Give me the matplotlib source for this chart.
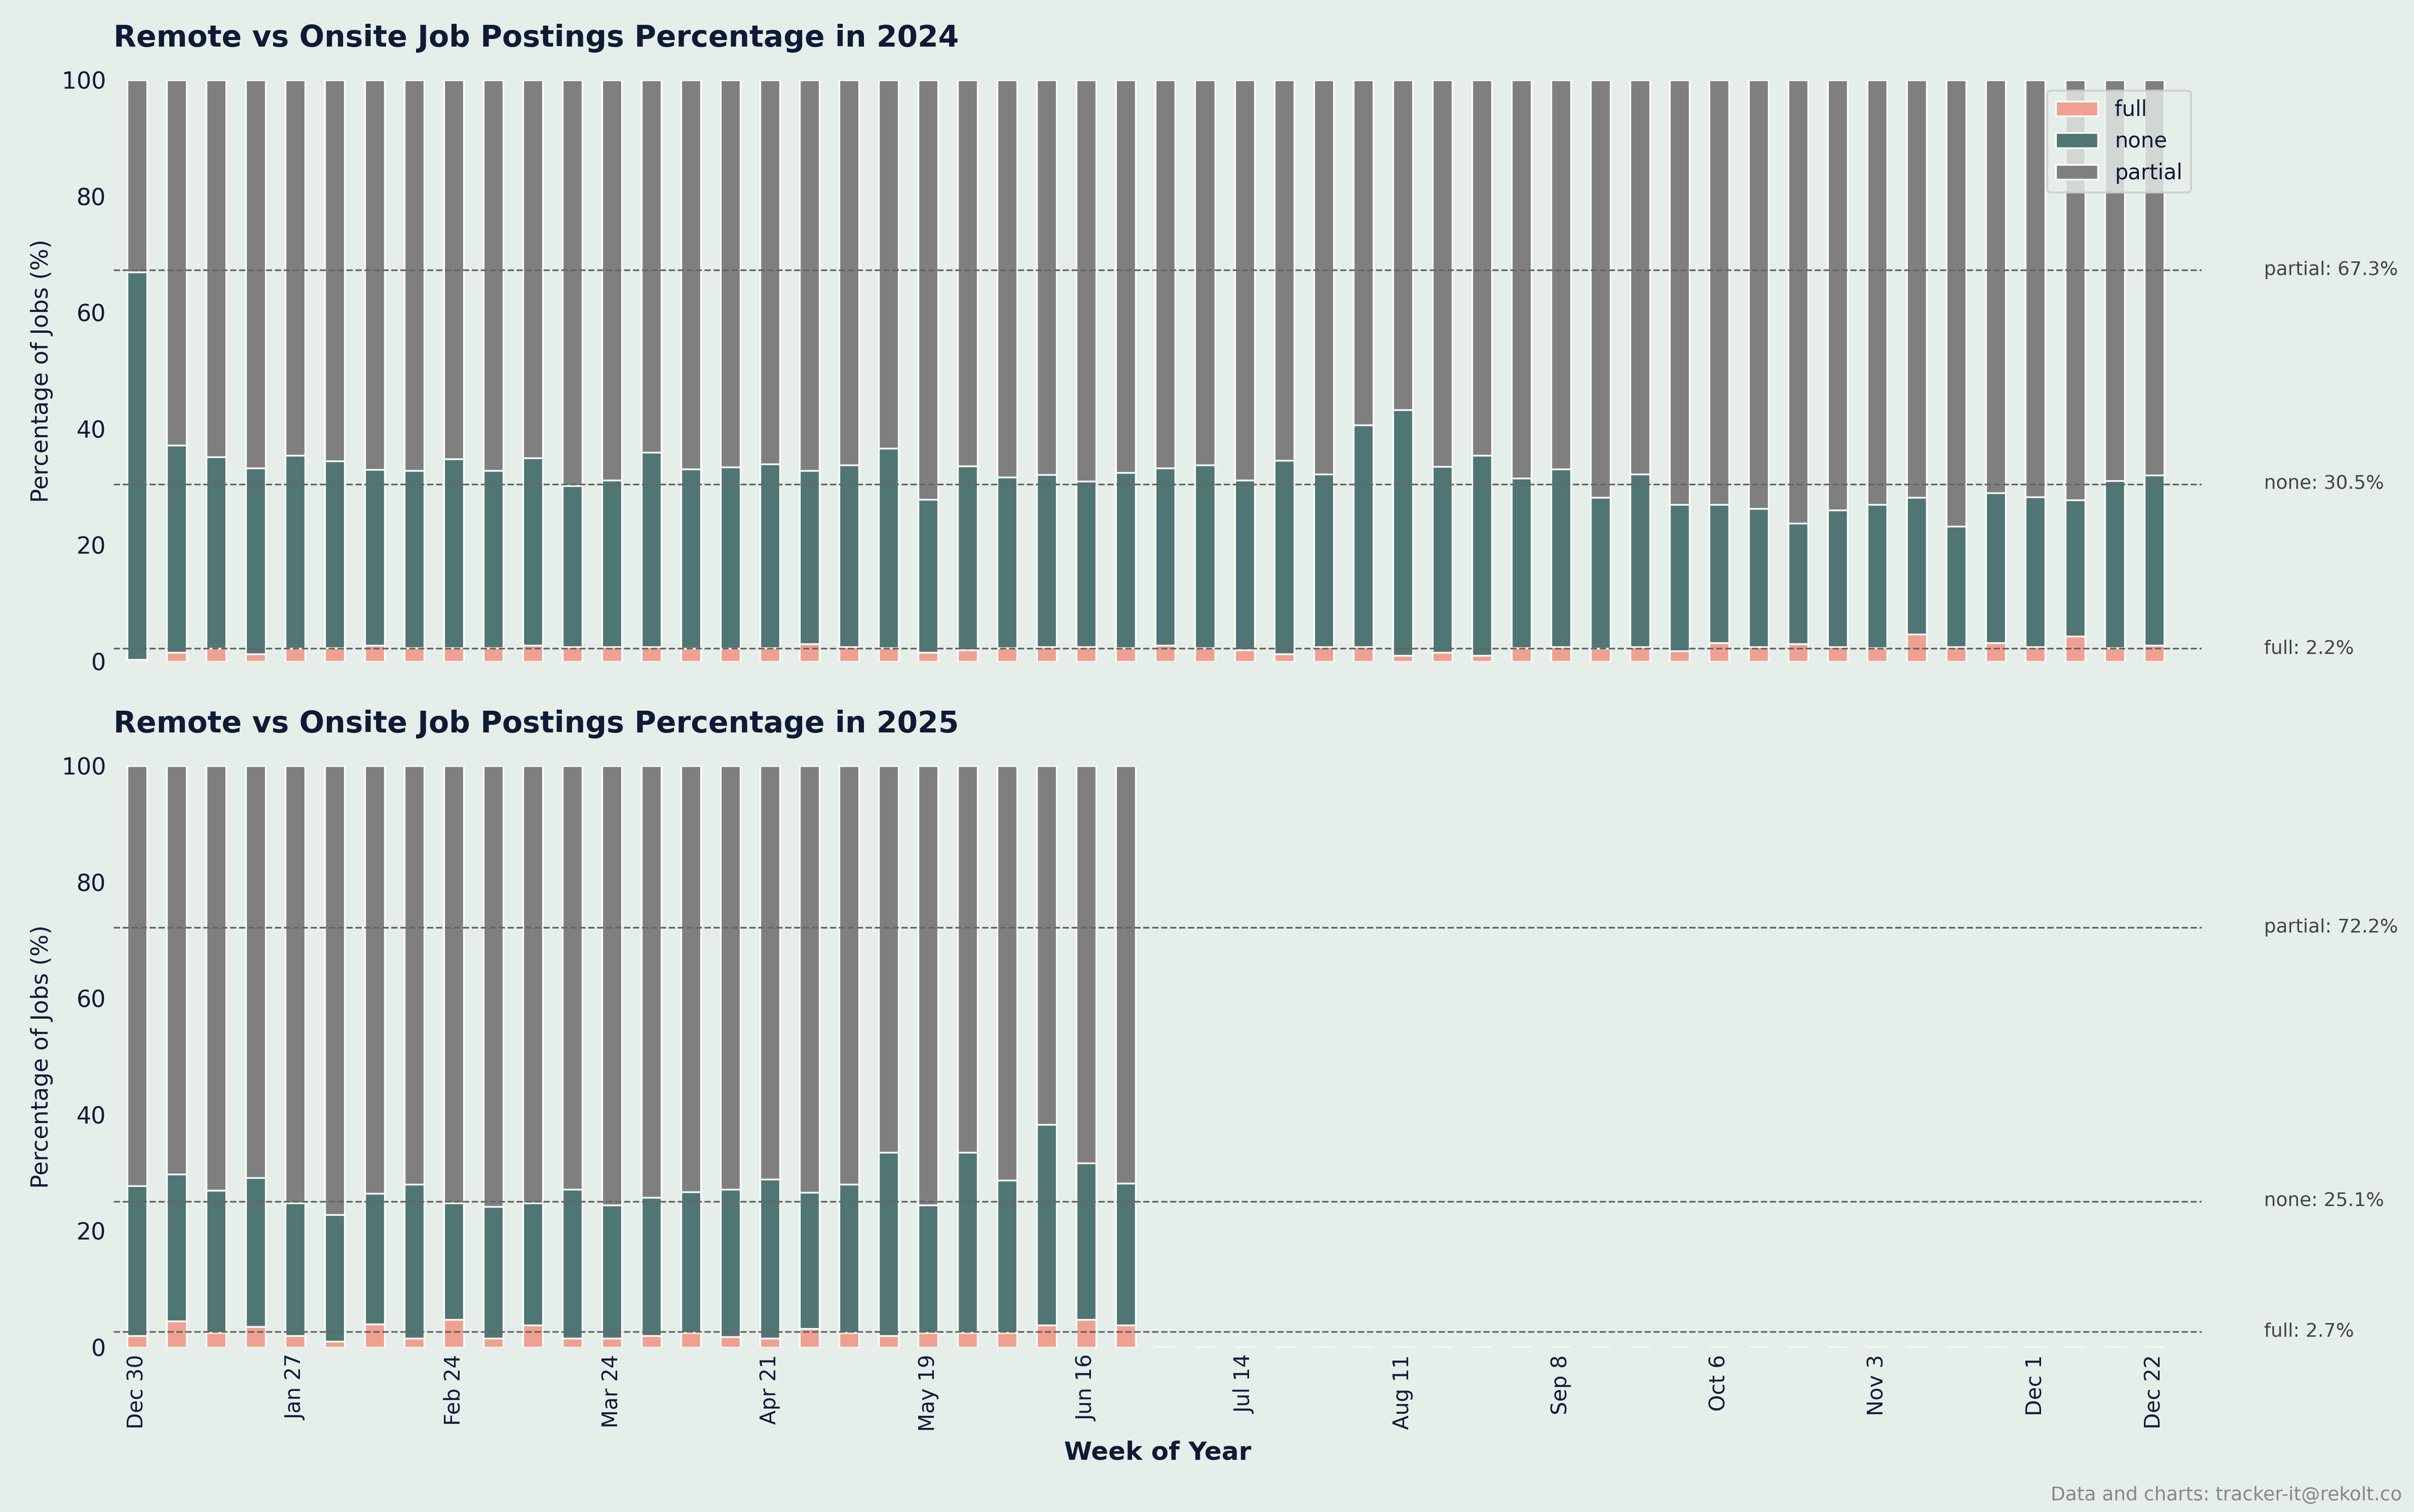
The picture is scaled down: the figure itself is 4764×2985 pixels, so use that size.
import matplotlib
matplotlib.use("Agg")
import matplotlib.pyplot as plt
import numpy as np

weeks_ticks = ["Dec 30","Jan 27","Feb 24","Mar 24","Apr 21","May 19","Jun 16","Jul 14","Aug 11","Sep 8","Oct 6","Nov 3","Dec 1","Dec 22"]
tick_idx = [0,4,8,12,16,20,24,28,32,36,40,44,48,51]

full_2024 = [0.3,1.5,2.2,1.3,2.2,2.3,2.8,2.3,2.3,2.3,2.8,2.5,2.5,2.5,2.2,2.2,2.3,3.0,2.5,2.3,1.5,2.0,2.3,2.5,2.5,2.3,2.8,2.3,2.0,1.3,2.5,2.5,1.0,1.5,1.0,2.3,2.5,2.2,2.5,1.8,3.2,2.5,3.0,2.5,2.3,4.7,2.5,3.2,2.5,4.3,2.3,2.8]
cum_none_2024 = [67,37.2,35.2,33.3,35.4,34.5,33,32.8,34.8,32.8,35,30.2,31.2,36,33.1,33.4,34,32.8,33.8,36.7,27.9,33.6,31.7,32.1,31,32.5,33.3,33.8,31.2,34.6,32.2,40.7,43.3,33.5,35.4,31.5,33.1,28.2,32.2,27,27,26.3,23.8,26,27,28.2,23.2,29,28.3,27.8,31.1,32]
full_2025 = [2.0,4.5,2.5,3.5,2.0,1.0,4.0,1.5,4.8,1.5,3.8,1.5,1.5,2.0,2.5,1.8,1.5,3.2,2.5,2.0,2.5,2.5,2.5,3.8,4.8,3.8]
cum_none_2025 = [27.8,29.8,27,29.2,24.8,22.8,26.5,28,24.8,24.2,24.8,27.2,24.5,25.8,26.7,27.2,28.9,26.6,28,33.5,24.5,33.5,28.7,38.3,31.7,28.2]

avg_2024 = {"partial": 67.3, "none": 30.5, "full": 2.2}
avg_2025 = {"partial": 72.2, "none": 25.1, "full": 2.7}

BG = "#e6eeea"; NAVY = "#0d1b36"
C_FULL = "#f0a090"; C_NONE = "#4f7672"; C_PART = "#7f7f7f"

def series(full, cum, n=52):
    f = np.zeros(n); no = np.zeros(n); p = np.zeros(n)
    k = len(full)
    f[:k] = full
    no[:k] = np.array(cum) - np.array(full)
    p[:k] = 100 - np.array(cum)
    return f, no, p

fig, axes = plt.subplots(2, 1, figsize=(15.88, 9.95), dpi=300)
fig.patch.set_facecolor(BG)
data = [(2024, full_2024, cum_none_2024, avg_2024), (2025, full_2025, cum_none_2025, avg_2025)]
x = np.arange(52)
for i, (ax, (yr, fu, cn, avg)) in enumerate(zip(axes, data)):
    ax.set_facecolor(BG)
    f, no, p = series(fu, cn)
    ax.bar(x, f, width=0.5, color=C_FULL, edgecolor="white", linewidth=0.8, label="full")
    ax.bar(x, no, width=0.5, bottom=f, color=C_NONE, edgecolor="white", linewidth=0.8, label="none")
    ax.bar(x, p, width=0.5, bottom=f+no, color=C_PART, edgecolor="white", linewidth=0.8, label="partial")
    for k in ["partial", "none", "full"]:
        ax.axhline(avg[k], color="#666666", linestyle="--", linewidth=0.8)
        ax.text(1.03, avg[k], f"{k}: {avg[k]}%", transform=ax.get_yaxis_transform(),
                va="center", ha="left", fontsize=9, color="#444444")
    ax.set_xlim(-0.6, 52.2)
    ax.set_ylim(0, 100)
    for s in ax.spines.values():
        s.set_visible(False)
    ax.set_ylabel("Percentage of Jobs (%)", fontsize=11, color=NAVY)
    ax.tick_params(axis="y", labelsize=11, colors=NAVY, length=0)
    ax.set_title(f"Remote vs Onsite Job Postings Percentage in {yr}", loc="left",
                 fontsize=14, fontweight="bold", color=NAVY, pad=16)
    ax.set_xticks(tick_idx)
    if i == 0:
        ax.set_xticklabels([])
        ax.tick_params(axis="x", length=0)
        ax.legend(loc="upper right", fontsize=10, facecolor=BG, labelcolor=NAVY)
    else:
        ax.set_xticklabels(weeks_ticks, rotation=90, fontsize=10, color=NAVY)
        ax.tick_params(axis="x", length=0)
        ax.set_xlabel("Week of Year", fontsize=12, fontweight="bold", color=NAVY)
fig.text(0.995, 0.005, "Data and charts: tracker-it@rekolt.co", ha="right", va="bottom",
         fontsize=9, color="#888888")
fig.subplots_adjust(left=0.047, right=0.912, top=0.947, bottom=0.109, hspace=0.18)
fig.savefig("out.png", dpi=300, facecolor=BG)
